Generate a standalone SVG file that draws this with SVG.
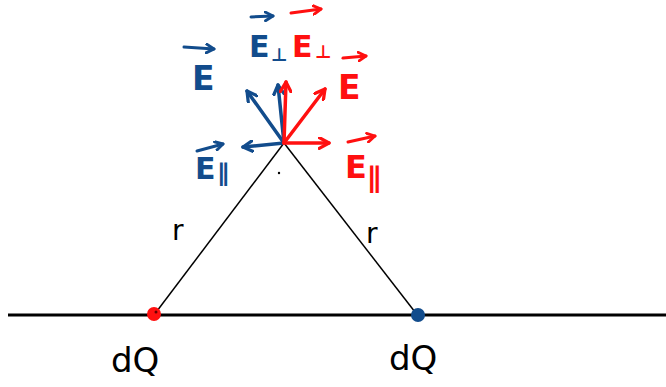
<svg xmlns="http://www.w3.org/2000/svg" width="666" height="387" viewBox="0 0 666 387">
<defs>
<marker id="hb" viewBox="0 0 12 12" refX="10" refY="6" markerWidth="13" markerHeight="13" markerUnits="userSpaceOnUse" orient="auto"><path d="M1,1 L10,6 L1,11" fill="none" stroke="#124c8c" stroke-width="3" stroke-linecap="round" stroke-linejoin="round"/></marker>
<marker id="hr" viewBox="0 0 12 12" refX="10" refY="6" markerWidth="13" markerHeight="13" markerUnits="userSpaceOnUse" orient="auto"><path d="M1,1 L10,6 L1,11" fill="none" stroke="#ff1010" stroke-width="3" stroke-linecap="round" stroke-linejoin="round"/></marker>
<marker id="sb" viewBox="0 0 10 10" refX="8" refY="5" markerWidth="11" markerHeight="11" markerUnits="userSpaceOnUse" orient="auto"><path d="M1,1 L8,5 L1,9" fill="none" stroke="#124c8c" stroke-width="2.6" stroke-linecap="round" stroke-linejoin="round"/></marker>
<marker id="sr" viewBox="0 0 10 10" refX="8" refY="5" markerWidth="11" markerHeight="11" markerUnits="userSpaceOnUse" orient="auto"><path d="M1,1 L8,5 L1,9" fill="none" stroke="#ff1010" stroke-width="2.6" stroke-linecap="round" stroke-linejoin="round"/></marker>
</defs>
<style>
.vb{stroke:#124c8c;stroke-width:3.5;fill:none;stroke-linecap:round;marker-end:url(#hb)}
.vr{stroke:#ff1010;stroke-width:3.5;fill:none;stroke-linecap:round;marker-end:url(#hr)}
.ab{stroke:#124c8c;stroke-width:3;fill:none;stroke-linecap:round;marker-end:url(#sb)}
.ar{stroke:#ff1010;stroke-width:3;fill:none;stroke-linecap:round;marker-end:url(#sr)}
.tb{fill:#124c8c;font-family:"DejaVu Sans",sans-serif;font-weight:bold}
.tr{fill:#ff1010;font-family:"DejaVu Sans",sans-serif;font-weight:bold}
.tk{fill:#000;font-family:"DejaVu Sans",sans-serif}
.ln{stroke:#000;stroke-width:1.5;fill:none}
</style>
<rect width="666" height="387" fill="#fff"/>
<g id="baseline"><line x1="8" y1="315" x2="666" y2="315" stroke="#000" stroke-width="3"/></g>
<g id="sides">
<line class="ln" x1="284" y1="143" x2="157" y2="311"/>
<line class="ln" x1="284" y1="143" x2="415" y2="312"/>
<circle cx="279" cy="173" r="1.2" fill="#000"/>
</g>
<g id="charge-left"><circle cx="154" cy="314" r="7" fill="#ff1010"/><circle cx="156" cy="312" r="1.5" fill="#600"/></g>
<g id="charge-right"><circle cx="418" cy="315" r="7" fill="#124c8c"/></g>
<g id="vectors">
<line class="vb" x1="284" y1="143" x2="278" y2="85"/>
<line class="vb" x1="284" y1="143" x2="247" y2="91"/>
<line class="vb" x1="284" y1="143" x2="243" y2="147"/>
<line class="vr" x1="284" y1="143" x2="286" y2="82"/>
<line class="vr" x1="284" y1="143" x2="325" y2="89"/>
<line class="vr" x1="284" y1="143" x2="329" y2="143"/>
</g>
<g id="label-E-blue"><path class="ab" d="M184,47 L214,49"/><text class="tb" x="192" y="90" font-size="33">E</text></g>
<g id="label-Eperp-blue"><path class="ab" d="M251,17 L273,16"/><text class="tb" x="249" y="57" font-size="30">E</text><text class="tb" x="271" y="61" font-size="18">⊥</text></g>
<g id="label-Eperp-red"><path class="ar" d="M291,13 L321,9"/><text class="tr" x="292" y="57" font-size="30">E</text><text class="tr" x="315" y="58" font-size="18">⊥</text></g>
<g id="label-E-red"><path class="ar" d="M343,58 L366,56"/><text class="tr" x="338" y="99" font-size="33">E</text></g>
<g id="label-Epar-blue"><path class="ab" d="M197,151 L223,144"/><text class="tb" x="195" y="179" font-size="30">E</text><text class="tb" x="217" y="181" font-size="24">∥</text></g>
<g id="label-Epar-red"><path class="ar" d="M348,142 L375,136"/><text class="tr" x="345" y="178" font-size="32">E</text><text class="tr" x="367" y="187" font-size="28">∥</text></g>
<g id="labels-r"><text class="tk" x="172" y="240" font-size="28">r</text><text class="tk" x="366" y="243" font-size="28">r</text></g>
<g id="labels-dQ"><text class="tk" x="111" y="372" font-size="34">dQ</text><text class="tk" x="389" y="370" font-size="34">dQ</text></g>
</svg>
